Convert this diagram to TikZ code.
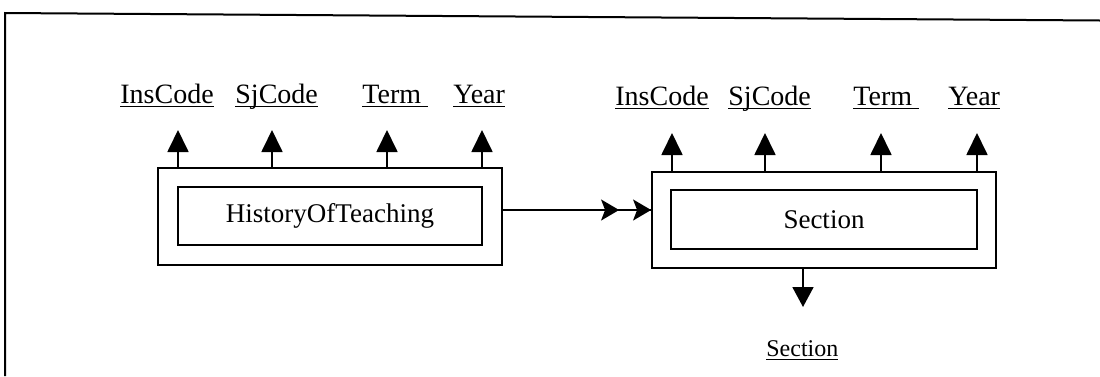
\documentclass[tikz,border=0pt]{standalone}
\usepackage{fontspec}
\setmainfont{Liberation Serif}
\usetikzlibrary{arrows.meta}
\newsavebox\ulbox
% underlined attribute name
\newcommand\ulword[1]{\sbox\ulbox{#1}\rlap{\rule[-2.2pt]{\wd\ulbox}{0.55pt}}\usebox\ulbox}
\tikzset{
  outerbox/.style={draw, line width=0.9pt, minimum width=172pt, inner sep=0pt},
  innerbox/.style={draw, line width=0.9pt, minimum width=152pt, inner sep=0pt, font=\fontsize{13.5}{16}\selectfont},
  attr/.style={anchor=base west, inner sep=0pt, font=\fontsize{14}{17}\selectfont},
  keyarrow/.style={line width=0.9pt, -{Triangle[length=11pt,width=10.5pt]}},
  downarrow/.style={line width=0.9pt, -{Triangle[length=10pt,width=10.5pt]}},
  link/.style={line width=0.9pt},
  dblhead/.style={line width=0.9pt, -{Stealth[length=9pt,width=10.5pt,inset=2pt,sep=7pt]Stealth[length=9pt,width=10.5pt,inset=2pt]}}
}
\begin{document}
\begin{tikzpicture}[x=0.5pt,y=-0.5pt]
\useasboundingbox (0,0) rectangle (1100,376);
% page frame
\draw[line width=1pt] (1100,20.5) -- (5,13) -- (5,376);

% HistoryOfTeaching relationship
\node[outerbox, minimum height=48.5pt] (ho) at (330,216.5) {};
\node[innerbox, minimum height=29pt] (hi) at (330,216) {HistoryOfTeaching};

% Section relationship
\node[outerbox, minimum height=48pt] (so) at (824,220) {};
\node[innerbox, minimum width=153pt, minimum height=29.5pt] (si) at (824,219.5) {Section};

% key attributes of HistoryOfTeaching
\node[attr] (h1) at (120,103) {\ulword{InsCode}};
\node[attr] (h2) at (235,103) {\ulword{SjCode}};
\node[attr] (h3) at (362,103) {\ulword{Term\hspace{3.5pt}}};
\node[attr] (h4) at (453,103) {\ulword{Year}};
\coordinate (ht1) at (178,130);
\coordinate (ht2) at (272,130);
\coordinate (ht3) at (387,130);
\coordinate (ht4) at (482,130);
\foreach \i in {1,...,4} \draw[keyarrow] (ho.north -| ht\i) -- (ht\i);

% key attributes of Section
\node[attr] (s1) at (615,105) {\ulword{InsCode}};
\node[attr] (s2) at (728,105) {\ulword{SjCode}};
\node[attr] (s3) at (853,105) {\ulword{Term\hspace{3.5pt}}};
\node[attr] (s4) at (948,105) {\ulword{Year}};
\coordinate (st1) at (672,133);
\coordinate (st2) at (765,133);
\coordinate (st3) at (881,133);
\coordinate (st4) at (977,133);
\foreach \i in {1,...,4} \draw[keyarrow] (so.north -| st\i) -- (st\i);

% many-to-one link between the relationships
\coordinate (ay) at (0,210);
\draw[link] (ho.east |- ay) -- (so.west |- ay);
\draw[dblhead] (ho.east |- ay) -- (so.west |- ay);

% generated Section attribute
\node[attr, font=\fontsize{12}{14}\selectfont] (sec) at (766,356) {\ulword{Section}};
\coordinate (dt) at (803,307);
\draw[downarrow] (so.south -| dt) -- (dt);
\end{tikzpicture}
\end{document}
